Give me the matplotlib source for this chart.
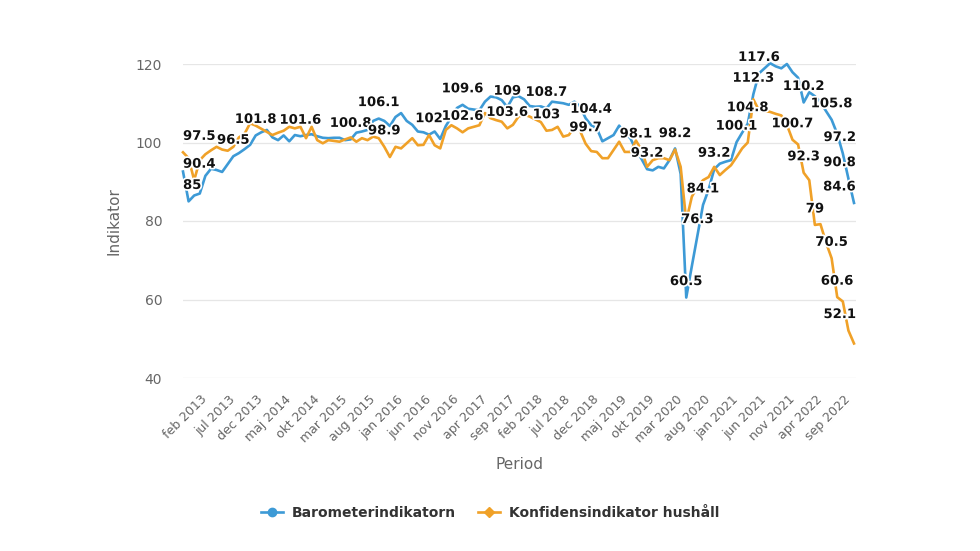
import matplotlib
matplotlib.use("Agg")
import matplotlib.pyplot as plt
import matplotlib.patheffects as pe
from matplotlib.lines import Line2D

# ---------------- data ----------------
month_names = ["jan", "feb", "mar", "apr", "maj", "jun", "jul", "aug", "sep", "okt", "nov", "dec"]
start_year, start_month = 2012, 10   # okt 2012
n_points = 121

barometer = [
    92.6, 85.0, 86.5, 87.0, 91.5, 93.3, 93.0, 92.5, 94.5, 96.5,
    97.3, 98.3, 99.4, 101.8, 102.6, 103.2, 101.3, 100.6, 101.8, 100.3,
    101.9, 101.6, 101.9, 102.1, 101.6, 101.2, 101.1, 101.2, 101.2, 100.6,
    100.8, 102.5, 102.8, 103.2, 105.5, 106.1, 105.5, 104.2, 106.5, 107.5,
    105.5, 104.5, 102.8, 102.6, 102.0, 102.8, 100.9, 104.2, 106.5, 108.8,
    109.6, 108.6, 108.4, 108.2, 110.4, 111.7, 111.5, 110.8, 109.0, 111.5,
    111.8, 111.0, 109.3, 109.1, 109.2, 108.7, 110.4, 110.2, 110.0, 109.6,
    110.4, 109.2, 106.2, 104.4, 103.6, 100.3, 101.1, 101.9, 104.3, 102.3,
    101.1, 98.1, 95.8, 93.2, 92.9, 93.8, 93.4, 95.5, 98.5, 92.0,
    60.5, 68.5, 76.3, 84.1, 88.0, 93.2, 94.6, 95.1, 95.5, 100.1,
    102.5, 104.8, 112.3, 117.6, 118.9, 120.2, 119.4, 118.9, 120.0, 117.9,
    116.5, 110.2, 112.8, 111.8, 110.3, 108.0, 105.8, 102.2, 97.2, 90.8,
    84.6,
]

konfidens = [
    97.5, 96.0, 90.4, 95.5, 97.0, 98.0, 98.9, 98.2, 97.9, 98.9,
    101.3, 102.2, 104.9, 104.3, 103.5, 102.7, 101.9, 102.5, 103.0, 104.0,
    103.6, 104.0, 101.1, 104.0, 100.6, 99.8, 100.6, 100.4, 100.2, 100.8,
    101.3, 100.2, 101.1, 100.6, 101.5, 101.1, 98.9, 96.3, 98.9, 98.5,
    99.8, 101.1, 99.3, 99.4, 101.9, 99.3, 98.5, 103.2, 104.4, 103.6,
    102.6, 103.6, 104.0, 104.4, 107.5, 106.2, 105.7, 105.3, 103.6, 104.5,
    106.6, 107.1, 106.6, 105.9, 105.2, 103.0, 103.2, 104.0, 101.5, 101.9,
    104.0, 103.0, 99.7, 97.8, 97.6, 96.0, 96.0, 98.1, 100.2, 97.6,
    97.6, 100.5, 98.1, 93.8, 95.5, 96.0, 96.0, 95.5, 98.2, 93.8,
    80.0, 86.2, 88.7, 90.4, 91.2, 93.8, 91.7, 93.0, 94.2, 96.3,
    98.5, 100.0, 111.0, 108.2, 108.0, 107.8, 107.3, 106.9, 104.5, 100.7,
    99.5, 92.3, 90.4, 79.0, 79.2, 74.5, 70.5, 60.6, 59.5, 52.1,
    48.8,
]

# indices of points whose value is shown as a data label
barometer_labels = [1, 9, 13, 21, 30, 35, 44, 50, 58, 65, 73, 81, 83, 90, 92, 93,
                    95, 99, 101, 102, 103, 111, 116, 118, 119, 120]
konfidens_labels = [0, 2, 36, 50, 58, 65, 72, 88, 109, 111, 113, 116, 117, 119]

tick_step = 5
first_tick = 4
y_ticks = [40, 60, 80, 100, 120]

categories = []
for k in range(n_points):
    m = start_month - 1 + k
    categories.append(f"{month_names[m % 12]} {start_year + m // 12}")

series = [
    ("Barometerindikatorn", barometer, "#3d9ad6", "o", barometer_labels),
    ("Konfidensindikator hushåll", konfidens, "#f0a128", "D", konfidens_labels),
]

# ---------------- figure ----------------
W, H, DPI = 980, 551, 100
fig = plt.figure(figsize=(W / DPI, H / DPI), dpi=DPI)
L, R, T, B = 183, 856, 64, 378
ax = fig.add_axes([L / W, 1 - B / H, (R - L) / W, (B - T) / H])

x = list(range(n_points))
for name, vals, col, mk, _ in series:
    ax.plot(x, vals, color=col, lw=1.9, solid_joinstyle="round", clip_on=False, zorder=3)

ax.set_xlim(0, (R - L) / ((854 - L) / (n_points - 1)))
ax.set_ylim(40, 120)
ax.set_yticks(y_ticks)
ax.grid(axis="y", color="#e6e6e6", lw=0.9)
ax.set_axisbelow(True)
for s in ax.spines.values():
    s.set_visible(False)
ax.tick_params(axis="y", length=0, pad=15, labelsize=10, labelcolor="#666666")

tick_idx = list(range(first_tick, n_points, tick_step))
ax.set_xticks(tick_idx)
ax.set_xticklabels([categories[i] for i in tick_idx], rotation=45, ha="right",
                   va="center", rotation_mode="anchor", fontsize=9, color="#666666")
ax.tick_params(axis="x", length=0, pad=14)

ax.set_ylabel("Indikator", fontsize=11, color="#666666", labelpad=10)
ax.set_xlabel("Period", fontsize=11, color="#666666", labelpad=9)

# data labels
texts = []
for name, vals, col, mk, lab_idx in series:
    for i in lab_idx:
        t = ax.annotate(f"{vals[i]:g}", (i, vals[i]), xytext=(0, 11.5),
                        textcoords="offset points", ha="center", va="center",
                        fontsize=9.5, fontweight="bold", color="#111111", zorder=5,
                        annotation_clip=False,
                        path_effects=[pe.withStroke(linewidth=2.5, foreground="white")])
        texts.append(t)

fig.canvas.draw()
r = fig.canvas.get_renderer()
axbb = ax.get_window_extent(r)
for t in texts:
    bb = t.get_window_extent(r)
    dx = 0
    if bb.x0 < axbb.x0:
        dx = axbb.x0 - bb.x0
    elif bb.x1 > axbb.x1:
        dx = axbb.x1 - bb.x1
    if dx:
        ox, oy = t.xyann
        t.xyann = (ox + dx * 72 / DPI, oy)

handles = [Line2D([0], [0], color=col, lw=1.9, marker=mk, markersize=6 if mk == "o" else 5,
                  markerfacecolor=col, markeredgecolor=col) for _, _, col, mk, _ in series]
leg = fig.legend(handles, [s[0] for s in series], loc="center", bbox_to_anchor=(0.5, 1 - 513 / H),
                 ncol=2, frameon=False, handlelength=1.6, columnspacing=1.6, handletextpad=0.6,
                 prop={"weight": "bold", "size": 10})
for txt in leg.get_texts():
    txt.set_color("#333333")

fig.savefig("out.png", dpi=DPI)
